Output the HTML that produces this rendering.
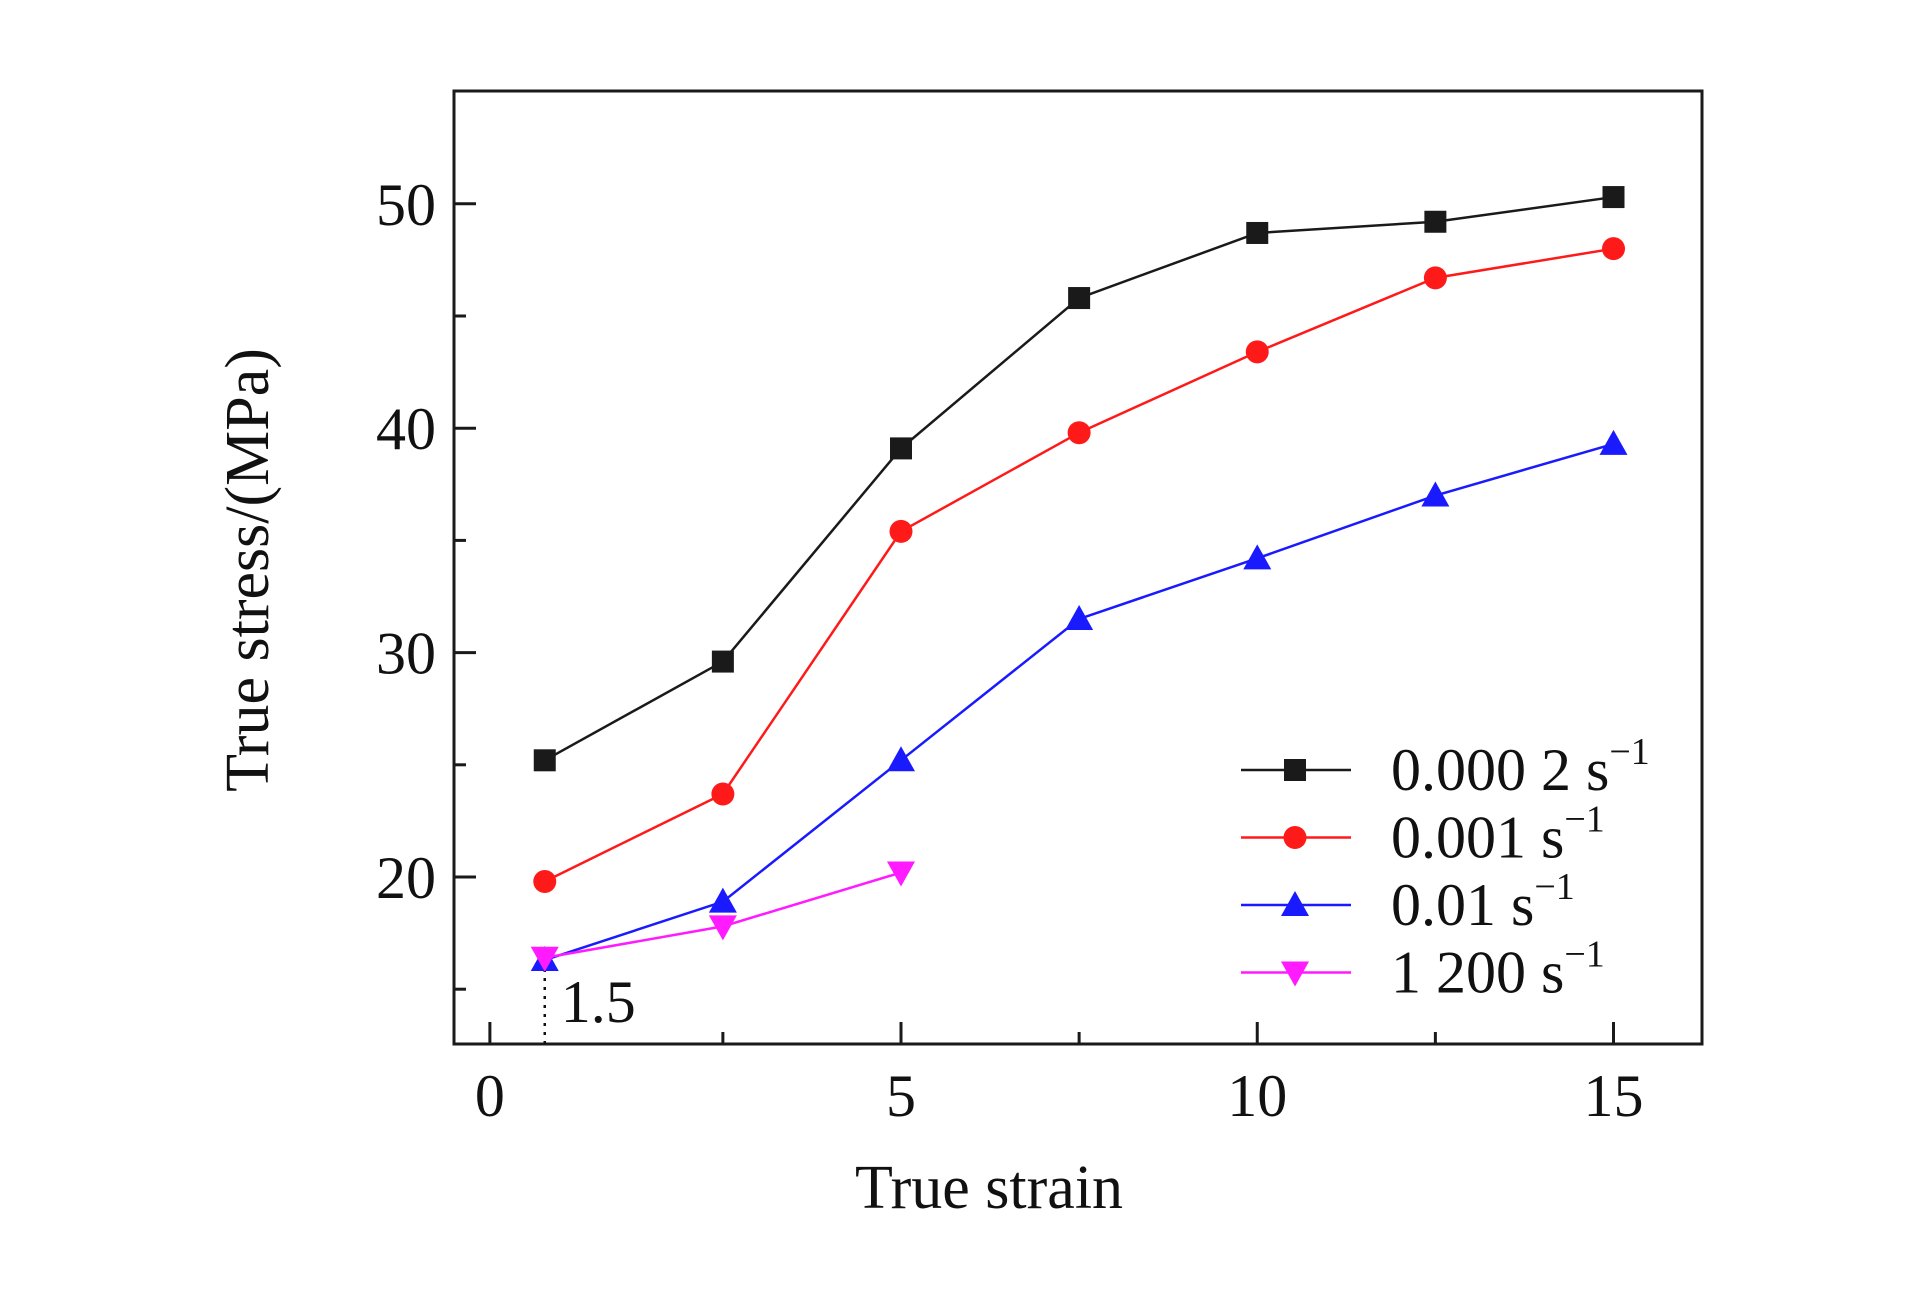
<!DOCTYPE html>
<html><head><meta charset="utf-8"><style>
html,body{margin:0;padding:0;background:#fff}
svg text{font-family:"Liberation Serif",serif;fill:#111}
</style></head><body>
<svg id="chart" width="1923" height="1299" viewBox="0 0 1923 1299" xmlns="http://www.w3.org/2000/svg">
<rect x="0" y="0" width="1923" height="1299" fill="#fff"/>
<g id="plot"></g>
</svg>
<script>
const xs = [0, 2.5, 5, 7.5, 10, 12.5, 15];
const s1 = [25.2, 29.6, 39.1, 45.8, 48.7, 49.2, 50.3];
const s2 = [19.8, 23.7, 35.4, 39.8, 43.4, 46.7, 48.0];
const s3 = [16.3, 18.9, 25.2, 31.5, 34.2, 37.0, 39.3];
const s4 = [16.4, 17.8, 20.2];
const xTickVals = [-0.77, 5, 10, 15];
const xTickLabels = ['0', '5', '10', '15'];
const xMinorVals = [2.5, 7.5, 12.5];
const yTickVals = [20, 30, 40, 50];
const yMinorVals = [15, 25, 35, 45];
const legendLabels = ['0.000 2 s', '0.001 s', '0.01 s', '1 200 s'];

const NS = 'http://www.w3.org/2000/svg';
const L = 454, R = 1702, T = 91, B = 1044;
const X0v = 5, X0p = 901, XPU = 71.25;
function X(v){ return X0p + (v - X0v) * XPU; }
const Y20 = 877, YPU = 22.44;
function Y(v){ return Y20 - (v - 20) * YPU; }
const g = document.getElementById('plot');
function el(tag, attrs, parent){
  const e = document.createElementNS(NS, tag);
  for (const k in attrs) e.setAttribute(k, attrs[k]);
  (parent || g).appendChild(e);
  return e;
}

const frame = el('rect', {x:L, y:T, width:R-L, height:B-T, fill:'none', stroke:'#1a1a1a', 'stroke-width':3});



xTickVals.forEach((v, i) => {
  const t = el('line', {x1:X(v), x2:X(v), y1:B, y2:B-22, stroke:'#1a1a1a', 'stroke-width':3});
  
  
  const lb = el('text', {x:X(v), y:1116, 'font-size':60, 'text-anchor':'middle'});
  lb.textContent = xTickLabels[i];
  
  
});
xMinorVals.forEach(v => {
  const t = el('line', {x1:X(v), x2:X(v), y1:B, y2:B-12, stroke:'#1a1a1a', 'stroke-width':3});
  
  
});
yTickVals.forEach(v => {
  const t = el('line', {x1:L, x2:L+22, y1:Y(v), y2:Y(v), stroke:'#1a1a1a', 'stroke-width':3});
  
  
  const lb = el('text', {x:436, y:Y(v)+21, 'font-size':60, 'text-anchor':'end'});
  lb.textContent = String(v);
  
  
});
yMinorVals.forEach(v => {
  const t = el('line', {x1:L, x2:L+12, y1:Y(v), y2:Y(v), stroke:'#1a1a1a', 'stroke-width':3});
  
  
});

const xt = el('text', {x:989, y:1208, 'font-size':62, 'text-anchor':'middle'});
xt.textContent = 'True strain';


const yt = el('text', {x:0, y:0, 'font-size':62, 'text-anchor':'middle', transform:'translate(268,570) rotate(-90)'});
yt.textContent = 'True stress/(MPa)';



const dl = el('line', {x1:X(xs[0]), x2:X(xs[0]), y1:Y(s3[0]), y2:B, stroke:'#111', 'stroke-width':2.5, 'stroke-dasharray':'3,6'});


const at = el('text', {x:X(xs[0])+16, y:1022, 'font-size':60});
at.textContent = '1.5';



function marker(type, cx, cy, color, parent){
  let m;
  if (type === 'square') m = el('rect', {x:cx-11, y:cy-11, width:22, height:22, fill:color}, parent);
  else if (type === 'circle') m = el('circle', {cx:cx, cy:cy, r:11.5, fill:color}, parent);
  else if (type === 'up') m = el('polygon', {points:`${cx},${cy-14} ${cx-14},${cy+11} ${cx+14},${cy+11}`, fill:color}, parent);
  else m = el('polygon', {points:`${cx},${cy+14} ${cx-14},${cy-11} ${cx+14},${cy-11}`, fill:color}, parent);
  return m;
}
const series = [
  {vals:s1, color:'#1a1a1a', m:'square', name:'series-0.0002'},
  {vals:s2, color:'#ff1a1a', m:'circle', name:'series-0.001'},
  {vals:s3, color:'#1a1aff', m:'up', name:'series-0.01'},
  {vals:s4, color:'#ff1aff', m:'down', name:'series-1200'}
];
series.forEach((s, si) => {
  const sg = el('g', {});
  
  
  const pts = s.vals.map((v, i) => X(xs[i]) + ',' + Y(v)).join(' ');
  const pl = el('polyline', {points:pts, fill:'none', stroke:s.color, 'stroke-width':2.5}, sg);
  
  
  s.vals.forEach((v, i) => {
    const mk = marker(s.m, X(xs[i]), Y(v), s.color, sg);
    
    
  });
  const ly = 770 + si * 67.5;
  const lg = el('g', {});
  
  
  el('line', {x1:1241, x2:1351, y1:ly, y2:ly, stroke:s.color, 'stroke-width':2.5}, lg);
  marker(s.m, 1295, ly, s.color, lg);
  const tx = el('text', {x:1391, y:ly+20, 'font-size':60}, lg);
  tx.textContent = legendLabels[si];
  const sup = el('tspan', {dy:-26, 'font-size':38}, tx);
  sup.textContent = '\u22121';
});
</script>
</body></html>
